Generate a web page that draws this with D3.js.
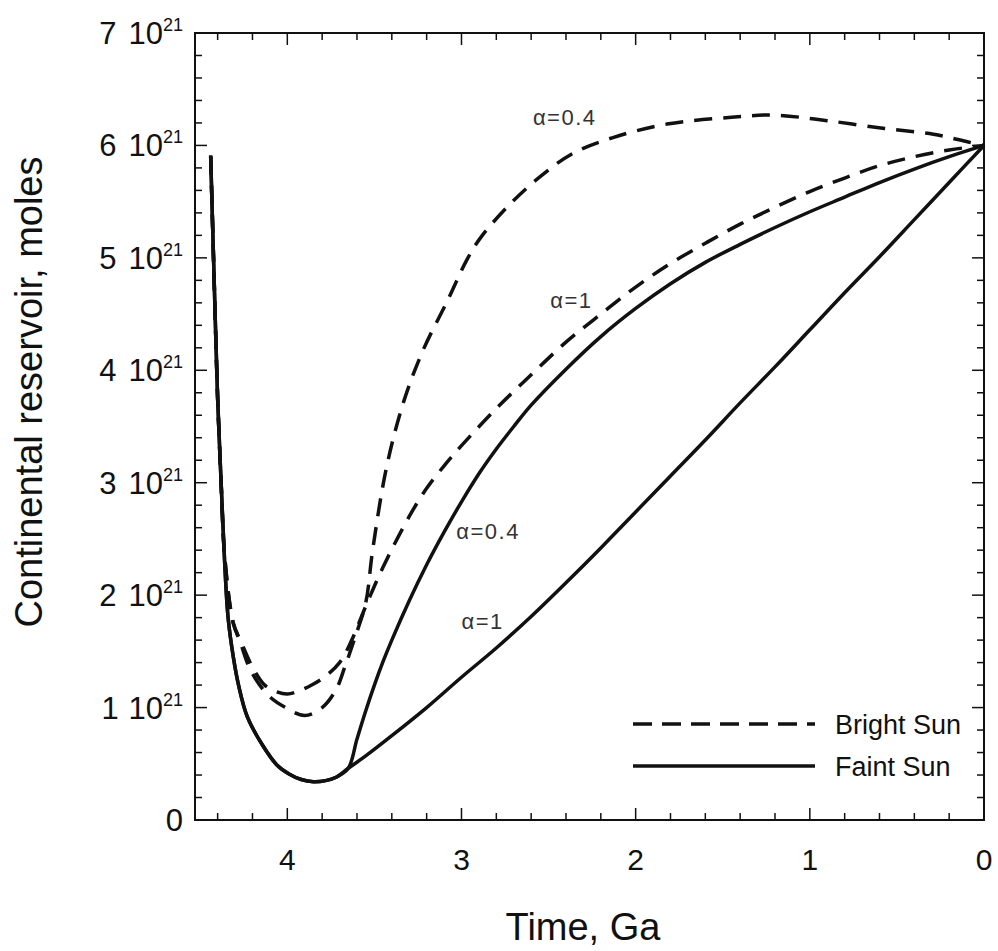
<!DOCTYPE html>
<html><head><meta charset="utf-8">
<script src="https://cdn.jsdelivr.net/npm/d3@7"></script>
<style>
html,body{margin:0;padding:0;background:#fff;}
svg{display:block;font-family:"Liberation Sans",Arial,Helvetica,sans-serif;}
</style></head>
<body><svg id="c" width="998" height="951"></svg>
<script>
// ---- data (time in Ga, reservoir in 10^21 moles) ----
const faintA1_t = [4.44,4.42,4.40,4.38,4.36,4.34,4.31,4.28,4.23,4.14,4.06,3.99,3.92,3.85,3.78,3.72,3.65,3.55,3.4,3.2,3.0,2.8,2.6,2.4,2.2,2.0,1.8,1.6,1.4,1.2,1.0,0.8,0.6,0.4,0.2,0];
const faintA1_v = [5.91,4.8,3.75,3.0,2.3,1.8,1.45,1.2,0.92,0.66,0.49,0.41,0.36,0.34,0.35,0.38,0.46,0.57,0.75,1.0,1.27,1.53,1.81,2.11,2.42,2.74,3.06,3.38,3.71,4.03,4.36,4.69,5.01,5.34,5.67,6.0];

const faintA04_t = [4.44,4.42,4.40,4.38,4.36,4.34,4.31,4.28,4.23,4.14,4.06,3.99,3.92,3.85,3.78,3.72,3.65,3.6,3.55,3.5,3.45,3.4,3.3,3.2,3.1,3.0,2.9,2.8,2.7,2.6,2.4,2.2,2.0,1.8,1.6,1.4,1.2,1.0,0.8,0.6,0.4,0.2,0];
const faintA04_v = [5.91,4.8,3.75,3.0,2.3,1.8,1.45,1.2,0.92,0.66,0.49,0.41,0.36,0.34,0.35,0.38,0.46,0.72,0.97,1.2,1.41,1.6,1.95,2.27,2.56,2.83,3.08,3.3,3.5,3.69,4.01,4.3,4.55,4.77,4.96,5.12,5.27,5.41,5.54,5.67,5.79,5.9,6.0];

const brightA1_t = [4.44,4.42,4.40,4.38,4.36,4.31,4.27,4.20,4.13,4.06,4.0,3.93,3.86,3.78,3.70,3.63,3.55,3.45,3.3,3.2,3.1,3.0,2.8,2.6,2.4,2.2,2.0,1.8,1.6,1.4,1.2,1.0,0.8,0.6,0.4,0.2,0];
const brightA1_v = [5.9,4.8,3.75,3.0,2.35,1.75,1.6,1.36,1.2,1.14,1.12,1.15,1.2,1.28,1.4,1.6,1.9,2.25,2.7,2.95,3.15,3.33,3.66,3.96,4.25,4.5,4.74,4.95,5.13,5.3,5.45,5.59,5.71,5.82,5.9,5.96,6.0];

const brightA04_t = [4.44,4.42,4.40,4.38,4.36,4.31,4.27,4.21,4.11,4.01,3.90,3.80,3.72,3.67,3.61,3.55,3.51,3.43,3.33,3.22,3.08,2.97,2.89,2.72,2.55,2.36,2.13,1.82,1.45,1.21,0.9,0.57,0.29,0.09,0];
const brightA04_v = [5.9,4.8,3.75,3.0,2.35,1.75,1.58,1.33,1.11,1.0,0.93,1.0,1.16,1.36,1.63,1.93,2.4,3.14,3.73,4.18,4.62,4.98,5.18,5.48,5.72,5.93,6.07,6.19,6.25,6.27,6.22,6.15,6.1,6.03,6.0];

const xTickValues = [4,3,2,1,0];
const yTickValues = [0,1,2,3,4,5,6,7];
const legendLabels = ["Bright Sun","Faint Sun"];
const curveLabels = [
  {text:"\u03B1=0.4", t:2.59, v:6.18},
  {text:"\u03B1=1",   t:2.49, v:4.55},
  {text:"\u03B1=0.4", t:3.03, v:2.50},
  {text:"\u03B1=1",   t:3.00, v:1.70}
];

// ---- layout ----
const L=195, R=984, T=33, B=820;
const svg = d3.select("#c");
const x = d3.scaleLinear().domain([4.53,0]).range([L,R]);
const y = d3.scaleLinear().domain([0,7]).range([B,T]);

// frame
svg.append("rect").attr("x",L).attr("y",T).attr("width",R-L).attr("height",B-T)
  .attr("fill","none").attr("stroke","#111").attr("stroke-width",2);

// ticks (inward, all sides)
const xMinor = d3.range(0,4.53,0.2).map(d=>+d.toFixed(2));
const yMinor = d3.range(0,7.001,0.2).map(d=>+d.toFixed(2));
const isMajor = d => Math.abs(d-Math.round(d))<1e-6;
const tg = svg.append("g").attr("stroke","#111").attr("stroke-width",1.5);
xMinor.forEach(d=>{
  const len = isMajor(d)?12:7;
  tg.append("line").attr("x1",x(d)).attr("x2",x(d)).attr("y1",B).attr("y2",B-len);
  tg.append("line").attr("x1",x(d)).attr("x2",x(d)).attr("y1",T).attr("y2",T+len);
});
yMinor.forEach(d=>{
  const len = isMajor(d)?12:7;
  tg.append("line").attr("x1",L).attr("x2",L+len).attr("y1",y(d)).attr("y2",y(d));
  tg.append("line").attr("x1",R).attr("x2",R-len).attr("y1",y(d)).attr("y2",y(d));
});

// x tick labels
svg.append("g").selectAll("text").data(xTickValues).join("text")
  .attr("x",d=>x(d)).attr("y",B+50).attr("text-anchor","middle")
  .attr("font-size",30).attr("fill","#111").text(d=>d);

// y tick labels: "n 10^21"
const yl = svg.append("g").selectAll("text").data(yTickValues).join("text")
  .attr("x",183).attr("y",d=>y(d)+11).attr("text-anchor","end")
  .attr("font-size",31).attr("fill","#111");
yl.each(function(d){
  const t = d3.select(this);
  if(d===0){ t.text("0"); return; }
  t.append("tspan").text(d);
  t.append("tspan").attr("dx",12).text("10");
  t.append("tspan").attr("font-size",18).attr("dy",-13).text("21");
});

// axis titles
svg.append("text").attr("x",583).attr("y",940).attr("text-anchor","middle")
  .attr("font-size",38).attr("fill","#111").text("Time, Ga");
svg.append("text").attr("transform","translate(42,392) rotate(-90)").attr("text-anchor","middle")
  .attr("font-size",38).attr("fill","#111").text("Continental reservoir, moles");

// curves
const line = d3.line().x(d=>x(d[0])).y(d=>y(d[1])).curve(d3.curveCatmullRom.alpha(0.5));
const series = [
  {t:brightA04_t, v:brightA04_v, dash:"18,11"},
  {t:brightA1_t,  v:brightA1_v,  dash:"18,11"},
  {t:faintA04_t,  v:faintA04_v,  dash:null},
  {t:faintA1_t,   v:faintA1_v,   dash:null}
];
const cg = svg.append("g");
series.forEach(s=>{
  const pts = s.t.map((t,i)=>[t,s.v[i]]);
  cg.append("path").attr("d",line(pts)).attr("fill","none").attr("stroke","#111")
    .attr("stroke-width",3.5).attr("stroke-linejoin","round")
    .attr("stroke-dasharray",s.dash);
});

// curve labels
svg.append("g").selectAll("text").data(curveLabels).join("text")
  .attr("x",d=>x(d.t)).attr("y",d=>y(d.v)).attr("font-size",22)
  .attr("letter-spacing",1.5).attr("fill","#333").text(d=>d.text);

// legend
const lg = svg.append("g");
[{dash:"19,10", yy:724},{dash:null, yy:766}].forEach((d,i)=>{
  lg.append("line").attr("x1",633).attr("x2",815).attr("y1",d.yy).attr("y2",d.yy)
    .attr("stroke","#111").attr("stroke-width",3.5).attr("stroke-dasharray",d.dash);
  lg.append("text").attr("x",835).attr("y",d.yy+10).attr("font-size",27)
    .attr("fill","#111").text(legendLabels[i]);
});
</script></body></html>
